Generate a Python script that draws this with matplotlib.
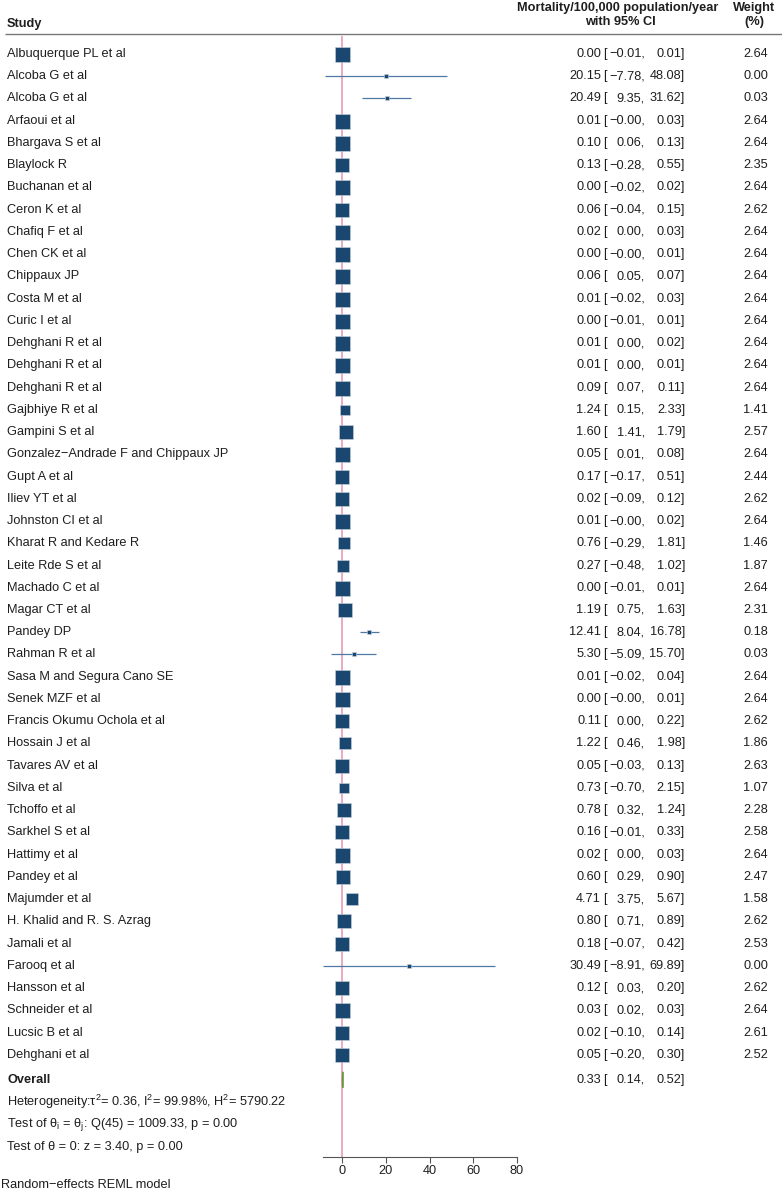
import matplotlib.pyplot as plt
from matplotlib.patches import Polygon
import numpy as np

plt.rcParams['font.family'] = ['Liberation Sans', 'DejaVu Sans']
plt.rcParams['mathtext.fontset'] = 'custom'
plt.rcParams['mathtext.rm'] = 'Liberation Sans'
plt.rcParams['mathtext.it'] = 'Liberation Sans:italic'

# data
studies = ["Albuquerque PL et al", "Alcoba G et al", "Alcoba G et al", "Arfaoui et al",
           "Bhargava S et al", "Blaylock R", "Buchanan et al", "Ceron K et al",
           "Chafiq F et al", "Chen CK et al", "Chippaux JP", "Costa M et al",
           "Curic I et al", "Dehghani R et al", "Dehghani R et al", "Dehghani R et al",
           "Gajbhiye R et al", "Gampini S et al", "Gonzalez\u2212Andrade F and Chippaux JP",
           "Gupt A et al", "Iliev YT et al", "Johnston CI et al", "Kharat R and Kedare R",
           "Leite Rde S et al", "Machado C et al", "Magar CT et al", "Pandey DP",
           "Rahman R et al", "Sasa M and Segura Cano SE", "Senek MZF et al",
           "Francis Okumu Ochola et al", "Hossain J et al", "Tavares AV et al",
           "Silva et al", "Tchoffo et al", "Sarkhel S et al", "Hattimy et al",
           "Pandey et al", "Majumder et al", "H. Khalid and R. S. Azrag", "Jamali et al",
           "Farooq et al", "Hansson et al", "Schneider et al", "Lucsic B et al",
           "Dehghani et al"]
est = [0.00, 20.15, 20.49, 0.01, 0.10, 0.13, 0.00, 0.06, 0.02, 0.00, 0.06, 0.01,
       0.00, 0.01, 0.01, 0.09, 1.24, 1.60, 0.05, 0.17, 0.02, 0.01, 0.76, 0.27,
       0.00, 1.19, 12.41, 5.30, 0.01, 0.00, 0.11, 1.22, 0.05, 0.73, 0.78, 0.16,
       0.02, 0.60, 4.71, 0.80, 0.18, 30.49, 0.12, 0.03, 0.02, 0.05]
lower = [-0.01, -7.78, 9.35, -0.00, 0.06, -0.28, -0.02, -0.04, 0.00, -0.00, 0.05, -0.02,
         -0.01, 0.00, 0.00, 0.07, 0.15, 1.41, 0.01, -0.17, -0.09, -0.00, -0.29, -0.48,
         -0.01, 0.75, 8.04, -5.09, -0.02, -0.00, 0.00, 0.46, -0.03, -0.70, 0.32, -0.01,
         0.00, 0.29, 3.75, 0.71, -0.07, -8.91, 0.03, 0.02, -0.10, -0.20]
upper = [0.01, 48.08, 31.62, 0.03, 0.13, 0.55, 0.02, 0.15, 0.03, 0.01, 0.07, 0.03,
         0.01, 0.02, 0.01, 0.11, 2.33, 1.79, 0.08, 0.51, 0.12, 0.02, 1.81, 1.02,
         0.01, 1.63, 16.78, 15.70, 0.04, 0.01, 0.22, 1.98, 0.13, 2.15, 1.24, 0.33,
         0.03, 0.90, 5.67, 0.89, 0.42, 69.89, 0.20, 0.03, 0.14, 0.30]
weights = [2.64, 0.00, 0.03, 2.64, 2.64, 2.35, 2.64, 2.62, 2.64, 2.64, 2.64, 2.64,
           2.64, 2.64, 2.64, 2.64, 1.41, 2.57, 2.64, 2.44, 2.62, 2.64, 1.46, 1.87,
           2.64, 2.31, 0.18, 0.03, 2.64, 2.64, 2.62, 1.86, 2.63, 1.07, 2.28, 2.58,
           2.64, 2.47, 1.58, 2.62, 2.53, 0.00, 2.62, 2.64, 2.61, 2.52]
overall = (0.33, 0.14, 0.52)
xticks = [0, 20, 40, 60, 80]
stats_lines = ["Heterogeneity:\u03c4$^2$= 0.36, I$^2$= 99.98%, H$^2$= 5790.22",
               "Test of \u03b8$_\\mathrm{i}$ = \u03b8$_\\mathrm{j}$: Q(45) = 1009.33, p = 0.00",
               "Test of \u03b8 = 0: z = 3.40, p = 0.00"]

W, H = 782, 1199
navy = '#1a476f'
txt = '#1e1e1e'
fs = 9.2

fig = plt.figure(figsize=(W / 100, H / 100), dpi=100)

# background axes in pixel units for the text columns
bg = fig.add_axes([0, 0, 1, 1])
bg.set_xlim(0, W)
bg.set_ylim(H, 0)
bg.axis('off')

row0, step = 54, 22.24
ys = [row0 + step * i for i in range(len(studies))]
y_overall = ys[-1] + 25
axis_y = 1157

# forest axes: x in data units, y in pixels
xmin, xmax = min(lower), 80
left_px = 342 - (0 - xmin) * (175 / 80)
ax = fig.add_axes([left_px / W, 1 - axis_y / H, (517 - left_px) / W, axis_y / H])
ax.set_xlim(xmin, xmax)
ax.set_ylim(axis_y, 0)
ax.patch.set_alpha(0)
for s in ['top', 'right', 'left']:
    ax.spines[s].set_visible(False)
ax.spines['bottom'].set_color('#555555')
ax.spines['bottom'].set_linewidth(0.8)
ax.set_yticks([])
ax.set_xticks(xticks)
ax.tick_params(axis='x', length=4, width=0.8, color='#555555', labelsize=fs, labelcolor=txt, pad=2)

# no-effect line
ax.vlines(0, 36, axis_y, color='#e8a2be', lw=1.3, zorder=1)

for i in range(len(studies)):
    ax.hlines(ys[i], lower[i], upper[i], color='#4f78a5', lw=0.9, zorder=2)
    ms = max(10.8 * np.sqrt(weights[i] / 2.64), 2.2)
    ax.plot(est[i], ys[i], marker='s', ms=ms, color=navy, mec='#c8d3df', mew=0.4, zorder=3)

o, lo, hi = overall
ax.add_patch(Polygon([(lo, y_overall), (o, y_overall - 8), (hi, y_overall), (o, y_overall + 8)],
                     closed=True, color='#6f9440', zorder=3))

# header
bg.text(7, 24, "Study", fontsize=fs, fontweight='bold', color=txt, va='center')
bg.text(618, 8, "Mortality/100,000 population/year", fontsize=fs, fontweight='bold', color=txt, ha='center', va='center')
bg.text(620, 22, "with 95% CI", fontsize=fs, fontweight='bold', color=txt, ha='center', va='center')
bg.text(754, 8, "Weight", fontsize=fs, fontweight='bold', color=txt, ha='center', va='center')
bg.text(754, 22, "(%)", fontsize=fs, fontweight='bold', color=txt, ha='center', va='center')
bg.hlines(34, 5, W, color='#777777', lw=1)


def f(v):
    return ("%.2f" % v).replace('-', '\u2212')


for i, name in enumerate(studies):
    y = ys[i]
    bg.text(7, y, name, fontsize=fs, color=txt, va='center')
    bg.text(601, y, f(est[i]), fontsize=fs, color=txt, va='center', ha='right')
    bg.text(603, y, "[", fontsize=fs, color=txt, va='center', ha='left')
    bg.text(645, y, f(lower[i]) + ",", fontsize=fs, color=txt, va='center', ha='right')
    bg.text(685, y, f(upper[i]) + "]", fontsize=fs, color=txt, va='center', ha='right')
    bg.text(768, y, "%.2f" % weights[i], fontsize=fs, color=txt, va='center', ha='right')

bg.text(7, y_overall, "Overall", fontsize=fs, fontweight='bold', color=txt, va='center')
bg.text(601, y_overall, f(o), fontsize=fs, color=txt, va='center', ha='right')
bg.text(603, y_overall, "[", fontsize=fs, color=txt, va='center', ha='left')
bg.text(645, y_overall, f(lo) + ",", fontsize=fs, color=txt, va='center', ha='right')
bg.text(685, y_overall, f(hi) + "]", fontsize=fs, color=txt, va='center', ha='right')

for k, line in enumerate(stats_lines):
    bg.text(7, y_overall + 22.4 * (k + 1), line, fontsize=fs, color=txt, va='center')

bg.text(1, 1185, "Random\u2212effects REML model", fontsize=fs, color=txt, va='center')

fig.savefig('out.png', dpi=100)
